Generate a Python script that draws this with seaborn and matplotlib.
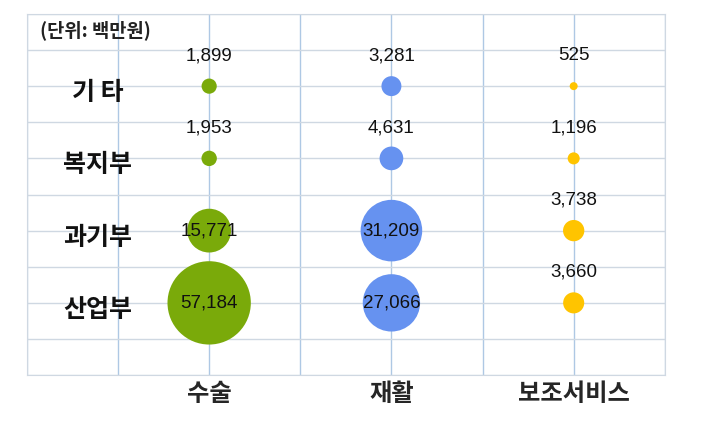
import pandas as pd
import numpy as np
import matplotlib.pyplot as plt
import seaborn as sns

# data (unit: million KRW)
categories = ["수술", "재활", "보조서비스"]
ministries = ["기 타", "복지부", "과기부", "산업부"]
surgery = [1899, 1953, 15771, 57184]
rehab = [3281, 4631, 31209, 27066]
assist = [525, 1196, 3738, 3660]
colors = ["#7aaa0a", "#6692f0", "#ffc400"]
# values drawn inside the bubble instead of above it
inside_min = 10000


def build_frame():
    rows = []
    for cat, vals in zip(categories, [surgery, rehab, assist]):
        for m, v in zip(ministries, vals):
            rows.append({"category": cat, "ministry": m, "value": v})
    return pd.DataFrame(rows)


def main():
    df = build_frame()
    sns.set_style("white")
    plt.rcParams["font.family"] = ["Noto Sans CJK KR", "DejaVu Sans"]

    fig = plt.figure(figsize=(7.08, 4.21), dpi=100)
    ax = fig.add_axes([0.038, 0.109, 0.901, 0.858])

    vmax = df["value"].max()
    sns.scatterplot(data=df, x="category", y="ministry", size="value",
                    hue="category", palette=colors,
                    sizes=(0, 3600), size_norm=(0, vmax),
                    linewidth=0, alpha=1, legend=False, ax=ax, zorder=3)

    ax.set_xlim(-1, 2.5)
    ax.set_ylim(4, -1)
    ax.set_xticks(np.arange(-1, 2.51, 0.5), minor=True)
    ax.set_yticks(np.arange(-1, 4.01, 0.5), minor=True)
    ax.set_xticks(range(len(categories)))
    ax.set_xticklabels(categories, fontsize=17.5, fontweight="bold")
    ax.set_yticks([])
    ax.tick_params(axis="x", which="both", length=0, pad=5)
    ax.grid(False)
    ax.grid(True, which="both", axis="x", color="#aec8e4", linewidth=1)
    ax.grid(True, which="minor", axis="y", color="#cfd8e2", linewidth=1)
    ax.set_axisbelow(True)
    ax.set_xlabel("")
    ax.set_ylabel("")
    for sp in ax.spines.values():
        sp.set_color("#cfd8e2")

    # value labels
    for _, r in df.iterrows():
        xi = categories.index(r["category"])
        yi = ministries.index(r["ministry"])
        txt = f"{r['value']:,}"
        if r["value"] >= inside_min:
            ax.text(xi, yi, txt, ha="center", va="center", fontsize=13.5,
                    family=["Liberation Sans"], color="#111111", zorder=4)
        else:
            ax.annotate(txt, (xi, yi), xytext=(0, 22), textcoords="offset points",
                        ha="center", va="center", fontsize=13.5,
                        family=["Liberation Sans"], color="#111111", zorder=4)

    # row labels sit inside the left column, a little below the row line
    for yi, m in enumerate(ministries):
        ax.annotate(m, (-0.61, yi), xytext=(0, -5), textcoords="offset points",
                    ha="center", va="center", fontsize=18,
                    fontweight="bold", color="#111111")

    ax.text(-0.93, -0.77, "(단위: 백만원)", ha="left", va="center",
            fontsize=13.5, fontweight="bold", color="#222222")

    fig.savefig("out.png", dpi=100)


if __name__ == "__main__":
    main()
